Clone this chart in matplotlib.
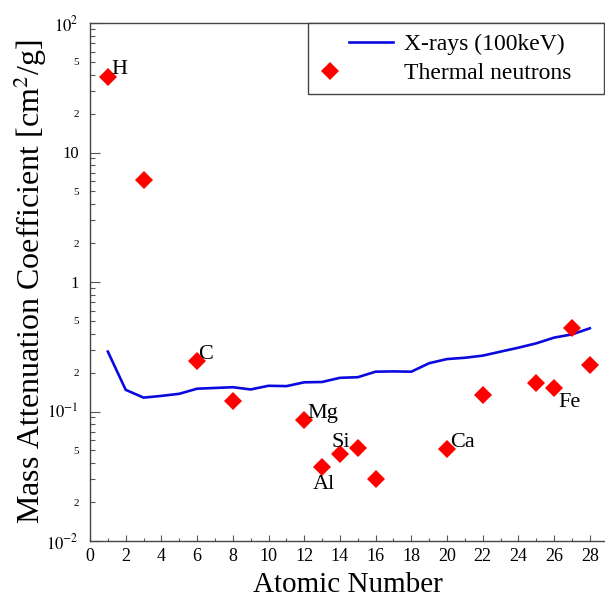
import matplotlib
matplotlib.use('Agg')
import matplotlib.pyplot as plt
import numpy as np
from matplotlib.legend_handler import HandlerLine2D
from matplotlib.ticker import FixedLocator, FuncFormatter

plt.rcParams['font.family'] = ['Liberation Serif', 'DejaVu Serif']
plt.rcParams['mathtext.fontset'] = 'stix'

# X-ray attenuation at 100 keV, Z = 1..28
xray_z = np.arange(1, 29)
xray_mu = [0.290, 0.147, 0.128, 0.132, 0.137, 0.150, 0.152, 0.154, 0.148, 0.158,
           0.157, 0.168, 0.169, 0.182, 0.184, 0.203, 0.204, 0.203, 0.236, 0.254,
           0.260, 0.270, 0.290, 0.311, 0.336, 0.372, 0.394, 0.439]

# thermal neutron attenuation
neut_z = [1, 3, 6, 8, 12, 13, 14, 15, 16, 20, 22, 25, 26, 27, 28]
neut_mu = [38.5, 6.13, 0.245, 0.1205, 0.086, 0.0371, 0.0467, 0.052, 0.0301,
           0.0513, 0.133, 0.167, 0.151, 0.439, 0.229]

# element labels: (text, x, y)
labels = [('H', 1.18, 40.2), ('C', 6.07, 0.254), ('Mg', 12.19, 0.0886),
          ('Si', 13.53, 0.0529), ('Al', 12.47, 0.0251), ('Ca', 20.16, 0.0529),
          ('Fe', 26.22, 0.109)]


class ShiftedHandler(HandlerLine2D):
    # squeeze the handle into a sub-range of the handle box
    # (single marker lands in the middle of that range)
    def __init__(self, frac=(0.0, 1.0), **kw):
        super().__init__(**kw)
        self.frac = frac

    def get_xdata(self, legend, xdescent, ydescent, width, height, fontsize):
        xdata = np.array([-xdescent + self.frac[0] * width,
                          -xdescent + self.frac[1] * width])
        return xdata, np.array([xdata.mean()])


fig = plt.figure(figsize=(6.05, 6.05), dpi=100)
ax = fig.add_axes([90 / 605, 64 / 605, 515 / 605, 518 / 605])

line, = ax.plot(xray_z, xray_mu, color='#0a0ae0', lw=1.9, label='X-rays (100keV)')
pts, = ax.plot(neut_z, neut_mu, 'D', color='#ff0000', ms=9, mew=0,
               label='Thermal neutrons')

for txt, x, y in labels:
    ax.text(x, y, txt, fontsize=16, va='baseline', ha='left')

ax.set_yscale('log')
ax.set_ylim(1e-2, 1e2)
ax.set_xlim(0, 28.85)

ax.xaxis.set_major_locator(FixedLocator(np.arange(0, 29, 2)))
ax.xaxis.set_minor_locator(FixedLocator(np.arange(1, 29, 2)))

majors = [1e-2, 1e-1, 1, 10, 1e2]
major_txt = {1e-2: '$10^{-2}$', 1e-1: '$10^{-1}$', 1: '1', 10: '10', 1e2: '$10^{2}$'}
ax.yaxis.set_major_locator(FixedLocator(majors))
ax.yaxis.set_major_formatter(FuncFormatter(
    lambda v, p: min(major_txt.items(), key=lambda kv: abs(np.log10(kv[0]) - np.log10(v)))[1]))

minors = [m * 10.0 ** e for e in range(-2, 2) for m in range(2, 10)]
ax.yaxis.set_minor_locator(FixedLocator(minors))


def minor_fmt(v, p):
    lead = round(v / 10 ** np.floor(np.log10(v) + 1e-9))
    return str(int(lead)) if lead in (2, 5) else ''


ax.yaxis.set_minor_formatter(FuncFormatter(minor_fmt))

ax.tick_params(axis='y', which='major', direction='in', length=7, width=0.8,
               color='#555555', labelsize=12, pad=8)
ax.tick_params(axis='y', which='minor', direction='in', length=3.6, width=0.8,
               color='#555555', labelsize=8, pad=8)
ax.tick_params(axis='x', which='major', direction='in', length=4, width=0.8,
               color='#555555', labelsize=13, pad=5)
ax.tick_params(axis='x', which='minor', direction='in', length=2.5, width=0.8,
               color='#555555')

for s in ['left', 'bottom', 'top']:
    ax.spines[s].set_color('#444444')
    ax.spines[s].set_linewidth(1.0)
ax.spines['right'].set_visible(False)

ax.set_xlabel('Atomic Number', fontsize=21, labelpad=5)
ax.set_ylabel('Mass Attenuation Coefficient [cm$^2$/g]', fontsize=23, labelpad=-2)

leg = ax.legend(handles=[line, pts], loc='upper left',
                bbox_to_anchor=(0.423, 0.859, 0.575, 0.141), mode='expand',
                borderaxespad=0, fontsize=17, fancybox=False, framealpha=1,
                edgecolor='#444444', handlelength=3.2, handletextpad=0.42,
                borderpad=0.45, labelspacing=0.3,
                handler_map={line: ShiftedHandler(frac=(0.41, 0.98)),
                             pts: ShiftedHandler(frac=(0.0, 0.30))})
leg.get_frame().set_linewidth(1.0)

fig.savefig('out.png', dpi=100)
